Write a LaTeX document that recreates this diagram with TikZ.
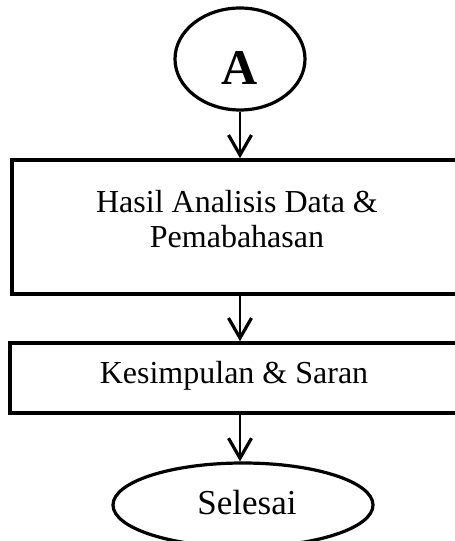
\documentclass[tikz,border=0pt]{standalone}
\usepackage{fontspec}
\setmainfont{Liberation Serif}
\usepackage{tikz}
\usetikzlibrary{shapes.geometric,arrows.meta}

\begin{document}
\begin{tikzpicture}[x=1pt, y=-1pt,
            kotak/.style={draw, line width=3.6pt, rectangle, inner sep=0pt}, kotak/.default=,
            bulat/.style={draw, line width=3.2pt, ellipse, inner sep=0pt}, bulat/.default=,
            teks/.style={align=center, font=\fontsize{32}{35}\selectfont}, teks/.default=,
            panah/.style={line width=2.2pt, -{Straight Barb[length=20pt, width=23pt, line width=3.2pt]}}, panah/.default=,
        ]
        \useasboundingbox (0,0) rectangle (455,541);
        % mulai dari penghubung A
        \node[bulat, minimum width=130pt, minimum height=102pt] (a) at (240,59) {};
        \node[font=\fontsize{50}{55}\selectfont\bfseries] (ahuruf) at (240,68) {A};
        \node[kotak, minimum width=448pt, minimum height=134pt] (hasil) at (236,227) {};
        \node[teks] (hasilteks) at (237,219) {Hasil Analisis Data \&\\Pemabahasan};
        \node[kotak, minimum width=450pt, minimum height=70pt] (simpulan) at (235,378) {};
        \node[teks] (simpulanteks) at (234,376) {Kesimpulan \& Saran};
        \node[bulat, minimum width=260pt, minimum height=84pt] (selesai) at (243,505) {};
        \node[teks, font=\fontsize{35}{38}\selectfont] (selesaiteks) at (247,503) {Selesai};
        % panah
        \draw[panah] (a) -- (a |- hasil.north);
        \draw[panah] (hasil.south -| a) -- (simpulan.north -| a);
        \draw[panah] (simpulan.south -| a) -- (selesai.north -| a);
    \end{tikzpicture}
\end{document}
